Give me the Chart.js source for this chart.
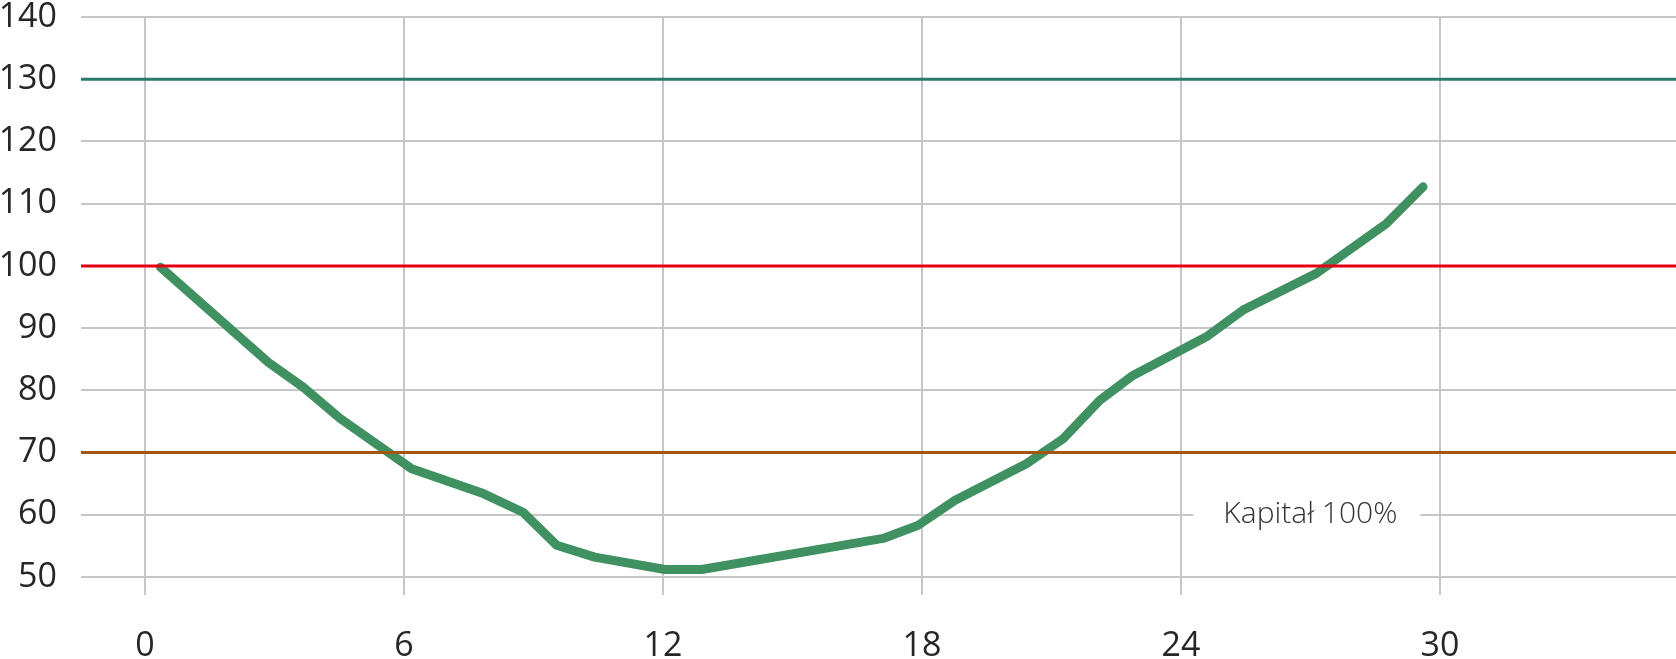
<!DOCTYPE html>
<html>
<head>
<meta charset="utf-8">
<script src="https://cdn.jsdelivr.net/npm/chart.js@4"></script>
<style>
  html, body { margin: 0; padding: 0; background: #fff; }
  #wrap { width: 1676px; height: 659px; }
</style>
</head>
<body>
<div id="wrap"><canvas id="chart"></canvas></div>
<script>
// curve
var months = [0.36, 2.86, 3.67, 4.52, 6.18, 7.84, 8.76, 9.54, 10.42, 12.05, 12.90, 17.10, 17.91, 18.76, 20.42, 21.27, 22.12, 22.89, 24.59, 25.44, 27.14, 28.76, 29.61];
var capital = [99.8, 84.5, 80.5, 75.5, 67.4, 63.4, 60.4, 55.1, 53.2, 51.2, 51.2, 56.2, 58.3, 62.3, 68.2, 72.2, 78.4, 82.4, 88.6, 92.9, 98.8, 106.8, 112.7];

// reference levels
var levels = [130, 100, 70];
var levelColors = ['#2b7a6f', '#e60012', '#a3560f'];

var xTicks = [0, 6, 12, 18, 24, 30];
var xMin = -1.48, xMax = 35.47;
var yMin = 50, yMax = 140;

var noteText = 'Kapitał 100%';
var noteAt = { x: 27, y: 60 };

var datasets = [];
for (var i = 0; i < levels.length; i++) {
	datasets.push({
		data: [{ x: xMin, y: levels[i] }, { x: xMax, y: levels[i] }],
		borderColor: levelColors[i],
		borderWidth: 3,
		pointRadius: 0
	});
}
var pts = [];
for (var j = 0; j < months.length; j++) pts.push({ x: months[j], y: capital[j] });
datasets.push({
	data: pts,
	borderColor: '#409162',
	borderWidth: 9,
	borderCapStyle: 'round',
	borderJoinStyle: 'round',
	pointRadius: 0,
	tension: 0
});

var notePlugin = {
	id: 'note',
	beforeDatasetsDraw: function(chart) {
		var ctx = chart.ctx;
		var px = chart.scales.x.getPixelForValue(noteAt.x);
		var py = chart.scales.y.getPixelForValue(noteAt.y);
		ctx.save();
		ctx.fillStyle = '#fff';
		ctx.fillRect(px - 117, py - 18, 227, 36);
		ctx.font = '300 30px "Open Sans"';
		ctx.fillStyle = '#333';
		ctx.textAlign = 'center';
		ctx.textBaseline = 'middle';
		ctx.fillText(noteText, px, py);
		ctx.restore();
	}
};

new Chart(document.getElementById('chart'), {
	type: 'line',
	data: { datasets: datasets },
	plugins: [notePlugin],
	options: {
		responsive: true,
		maintainAspectRatio: false,
		animation: false,
		layout: { padding: 0 },
		plugins: { legend: { display: false }, tooltip: { enabled: false } },
		scales: {
			x: {
				type: 'linear',
				min: xMin,
				max: xMax,
				afterBuildTicks: function(scale) {
					scale.ticks = xTicks.map(function(v) { return { value: v }; });
				},
				afterFit: function(scale) {
					scale.height = 82;
					scale.paddingLeft = 0;
					scale.paddingRight = 0;
				},
				border: { display: false },
				grid: { color: '#c6c6c6', lineWidth: 2, tickLength: 18, drawTicks: true },
				ticks: {
					color: '#262626',
					padding: 31,
					maxRotation: 0,
					font: { family: 'Open Sans', size: 34, weight: '400' }
				}
			},
			y: {
				min: yMin,
				max: yMax,
				afterFit: function(scale) {
					scale.width = 81;
					scale.paddingTop = 17;
					scale.paddingBottom = 0;
				},
				border: { display: false },
				grid: { color: '#c6c6c6', lineWidth: 2, drawTicks: false },
				ticks: {
					stepSize: 10,
					color: '#262626',
					padding: 24,
					font: { family: 'Open Sans', size: 34, weight: '400' }
				}
			}
		}
	}
});
</script>
</body>
</html>
